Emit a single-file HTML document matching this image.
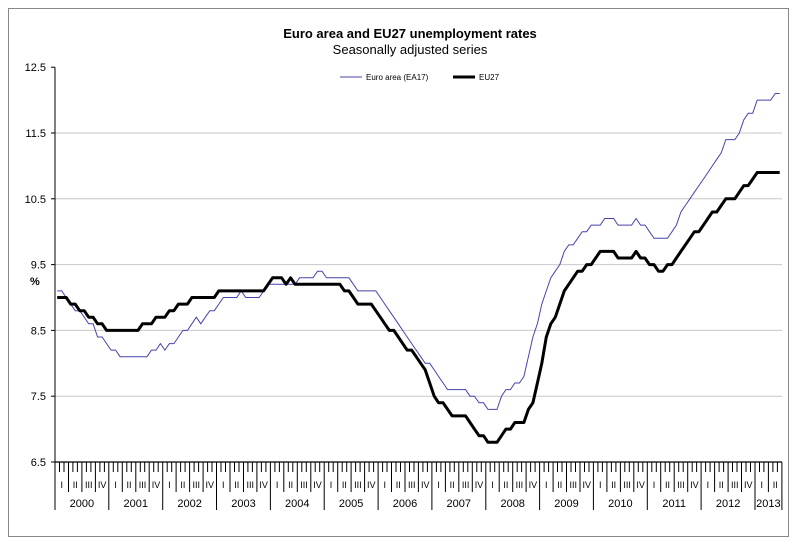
<!DOCTYPE html>
<html><head><meta charset="utf-8"><style>
body{margin:0;background:#fff;}
svg{display:block;font-family:"Liberation Sans",Arial,sans-serif;}
</style></head><body>
<svg id="s" width="799" height="544" xmlns="http://www.w3.org/2000/svg">
<rect x="8.5" y="8.5" width="780" height="528" fill="#fff" stroke="#888" stroke-width="1"/>
<text x="410" y="38" text-anchor="middle" font-size="13" font-weight="bold">Euro area and EU27 unemployment rates</text>
<text x="410" y="54" text-anchor="middle" font-size="13">Seasonally adjusted series</text>
<text x="30" y="285" font-size="11" font-weight="bold">%</text>
<g id="g"></g>
<line x1="340" y1="77" x2="362" y2="77" stroke="#4444aa" stroke-width="1"/>
<text x="366" y="80" font-size="8">Euro area (EA17)</text>
<line x1="453" y1="77" x2="475" y2="77" stroke="#000" stroke-width="3"/>
<text x="479" y="80" font-size="8">EU27</text>
</svg>
<script>
var g=document.getElementById('g'),h='';
var X0=55,PX=4.487,Y0=462,PY=65.8;
function yv(v){return Y0-(v-6.5)*PY;}
[12.5,11.5,10.5,9.5,8.5,7.5,6.5].forEach(function(v){var y=yv(v);
if(v>6.5&&v<12.5)h+='<line x1="55" y1="'+y+'" x2="782" y2="'+y+'" stroke="#c8c8c8" stroke-width="1"/>';
h+='<line x1="51" y1="'+y+'" x2="55" y2="'+y+'" stroke="#000"/>';
h+='<text x="46" y="'+(y+4)+'" text-anchor="end" font-size="11">'+v.toFixed(1)+'</text>';});
h+='<line x1="55" y1="'+yv(12.5)+'" x2="55" y2="462" stroke="#000" stroke-width="1"/>';
h+='<line x1="55" y1="462" x2="782" y2="462" stroke="#000" stroke-width="1.2"/>';
for(var m=0;m<=162;m++){var x=(X0+m*PX).toFixed(1);var len=m%12==0?48:(m%3==0?30:10);if(m==162)len=48;
h+='<line x1="'+x+'" y1="462" x2="'+x+'" y2="'+(462+len)+'" stroke="#000" stroke-width="1"/>';}
var Q=['I','II','III','IV'];
for(var q=0;q<54;q++){var x=X0+(q*3+1.5)*PX;h+='<text x="'+x.toFixed(1)+'" y="488" text-anchor="middle" font-size="9">'+Q[q%4]+'</text>';}
for(var yr=0;yr<14;yr++){var x=X0+(yr*12+(yr==13?3:6))*PX;h+='<text x="'+x.toFixed(1)+'" y="507" text-anchor="middle" font-size="11">'+(2000+yr)+'</text>';}
function series(k){var out=[];for(var i=0;i<162;i++){var j=0;while(j<k.length-1&&k[j+1][0]<i)j++;var a=k[j],b=k[Math.min(j+1,k.length-1)];var v=b[0]==a[0]?a[1]:a[1]+(b[1]-a[1])*(i-a[0])/(b[0]-a[0]);if(i<=k[0][0])v=k[0][1];if(i>=k[k.length-1][0])v=k[k.length-1][1];out.push(Math.round(v*10)/10);}return out;}
function path(d){return d.map(function(v,i){return(i?'L':'M')+(X0+(i+0.5)*PX).toFixed(1)+','+yv(v).toFixed(1);}).join('');}
var ea=series([[0,9.1],[1.1,9.1],[3.5,8.8],[5.1,8.8],[7.3,8.6],[8,8.6],[9.1,8.4],[10.2,8.4],[11.8,8.2],[12.9,8.2],[14,8.1],[20,8.1],[21.1,8.2],[22.2,8.2],[22.9,8.3],[24,8.2],[25.1,8.3],[26.2,8.3],[28,8.5],[29,8.5],[31.1,8.7],[32.3,8.6],[34,8.8],[35.2,8.8],[36.9,9.0],[40,9.0],[41.2,9.1],[42.3,9.0],[44.7,9.0],[46.7,9.2],[53,9.2],[54.1,9.3],[57,9.3],[58,9.4],[59,9.4],[60,9.3],[64,9.3],[66,9.2],[68,9.1],[70,9.1],[72,9.0],[76,8.6],[78,8.4],[87,7.6],[91,7.6],[92,7.5],[94,7.4],[96,7.3],[98,7.3],[99,7.5],[101,7.6],[103,7.7],[104,7.8],[106,8.4],[109.8,9.3],[114.3,9.8],[117.2,10.0],[119.9,10.1],[123.2,10.2],[125,10.1],[128.1,10.1],[129.2,10.2],[130.3,10.1],[133.2,9.9],[136.1,9.9],[141.7,10.6],[146.1,11.0],[149.3,11.4],[150.6,11.4],[154.4,11.8],[155,11.8],[156.3,12.0],[159.4,12.0],[160.3,12.1]]);
var eu=series([[0,9.0],[1.7,9.0],[2.8,8.9],[4,8.9],[5,8.8],[6,8.8],[6.9,8.7],[8,8.7],[8.9,8.6],[10,8.6],[11.1,8.5],[17.8,8.5],[18.9,8.6],[20.7,8.6],[21.8,8.7],[23.6,8.7],[24.7,8.8],[25.8,8.8],[26.9,8.9],[28.9,8.9],[30,9.0],[34.7,9.0],[35.8,9.1],[45.9,9.1],[47.9,9.3],[49.6,9.3],[50.8,9.2],[51.9,9.3],[53,9.2],[63,9.2],[64,9.1],[66,9.0],[67,8.9],[70,8.9],[74,8.5],[75,8.5],[78,8.2],[79,8.2],[82.6,7.8],[84,7.5],[88,7.2],[91,7.2],[94,6.9],[96,6.8],[98,6.8],[99,6.9],[101,7.0],[103,7.1],[104,7.1],[106.5,7.5],[109,8.4],[113.2,9.1],[116.1,9.4],[117.2,9.4],[118.7,9.5],[121,9.7],[123.9,9.7],[125.4,9.6],[128.1,9.6],[129.2,9.7],[130.3,9.6],[132.7,9.5],[134.2,9.4],[135.1,9.4],[136,9.5],[137,9.5],[141.9,10.0],[143,10.0],[146.1,10.3],[147,10.3],[149.3,10.5],[151,10.5],[152.8,10.7],[153.9,10.7],[156.2,10.9],[161,10.9]]);
h+='<path d="'+path(ea)+'" fill="none" stroke="#4444aa" stroke-width="1"/>';
h+='<path d="'+path(eu)+'" fill="none" stroke="#000" stroke-width="3" stroke-linejoin="round"/>';
g.innerHTML=h;
</script>
</body></html>
